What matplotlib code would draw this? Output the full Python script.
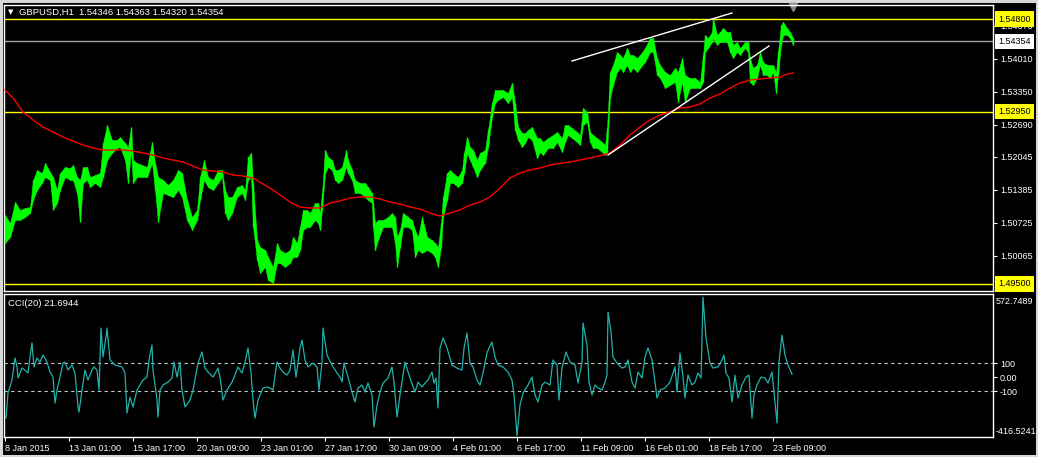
import matplotlib
matplotlib.use('Agg')
import matplotlib.pyplot as plt
import matplotlib.transforms as mtransforms
from matplotlib.patches import Rectangle

plt.rcParams['font.family'] = ['Liberation Sans', 'DejaVu Sans']

# ---- price samples (bar index, high, low) ----
bars = [0, 5, 10, 15, 20, 25, 28, 32, 37, 40,
        45, 48, 52, 55, 60, 65, 68, 72, 75, 78,
        82, 85, 90, 95, 98, 102, 107, 112, 115, 120,
        123, 126, 128, 132, 137, 142, 147, 150, 153, 158,
        163, 168, 173, 177, 182, 187, 192, 195, 199, 203,
        208, 213, 217, 220, 223, 227, 232, 237, 240, 243,
        246, 248, 252, 255, 260, 263, 268, 272, 275, 280,
        285, 288, 292, 295, 298, 302, 305, 310, 313, 315,
        317, 320, 323, 327, 330, 333, 337, 341, 343, 347,
        350, 355, 360, 363, 367, 368, 370, 373, 378, 383,
        387, 390, 392, 395, 398, 403, 407, 410, 413, 417,
        422, 427, 430, 433, 436, 438, 442, 445, 448, 453,
        457, 459, 462, 465, 468, 472, 475, 480, 483, 487,
        490, 493, 498, 503, 507, 510, 513, 517, 520, 523,
        527, 532, 535, 538, 543, 548, 552, 557, 560, 563,
        567, 572, 575, 578, 582, 585, 588, 592, 597, 600,
        602, 605, 608, 612, 615, 618, 622, 625, 628, 632,
        635, 640, 645, 648, 652, 655, 660, 665, 670, 673,
        677, 680, 685, 690, 695, 698, 700, 703, 707, 708,
        712, 715, 718, 722, 725, 728, 732, 735, 740, 743,
        745, 748, 752, 755, 758, 762, 765, 768, 771, 773,
        776, 778, 782, 785, 788]

high = [1.5088, 1.5072, 1.5114, 1.5098, 1.5102, 1.5104, 1.5158, 1.5178, 1.5172, 1.5192,
        1.5174, 1.5164, 1.5138, 1.5172, 1.5184, 1.5182, 1.5188, 1.5164, 1.5158, 1.5184,
        1.5184, 1.5164, 1.5168, 1.5172, 1.5232, 1.5268, 1.5238, 1.5238, 1.5244, 1.5232,
        1.5224, 1.5264, 1.5198, 1.5192, 1.5188, 1.5184, 1.5234, 1.5192, 1.5164, 1.5158,
        1.5148, 1.5158, 1.5178, 1.5172, 1.5118, 1.5084, 1.5098, 1.5164, 1.5198, 1.5164,
        1.5158, 1.5178, 1.5178, 1.5138, 1.5124, 1.5124, 1.5144, 1.5148, 1.5138, 1.5204,
        1.5212, 1.5152, 1.5038, 1.5024, 1.5018, 1.5004, 1.4984, 1.5032, 1.5018, 1.5012,
        1.5018, 1.5044, 1.5032, 1.5064, 1.5098, 1.5098, 1.5092, 1.5112, 1.5112, 1.5092,
        1.5132, 1.5218, 1.5204, 1.5198, 1.5178, 1.5178, 1.5184, 1.5218, 1.5198, 1.5178,
        1.5158, 1.5152, 1.5152, 1.5144, 1.5132, 1.5112, 1.5072, 1.5078, 1.5078, 1.5084,
        1.5092, 1.5084, 1.5044, 1.5058, 1.5092, 1.5084, 1.5078, 1.5058, 1.5044, 1.5084,
        1.5044, 1.5038, 1.5032, 1.5024, 1.5072, 1.5124, 1.5172, 1.5178, 1.5172, 1.5164,
        1.5178, 1.5212, 1.5244, 1.5224, 1.5218, 1.5198, 1.5212, 1.5218, 1.5258, 1.5312,
        1.5338, 1.5338, 1.5338, 1.5332, 1.5352, 1.5312, 1.5264, 1.5252, 1.5252, 1.5258,
        1.5264, 1.5242, 1.5242, 1.5234, 1.5242, 1.5248, 1.5254, 1.5242, 1.5268, 1.5268,
        1.5262, 1.5254, 1.5248, 1.5302, 1.5294, 1.5254, 1.5248, 1.5242, 1.5234, 1.5228,
        1.5262, 1.5374, 1.5388, 1.5414, 1.5408, 1.5402, 1.5422, 1.5408, 1.5408, 1.5402,
        1.5408, 1.5422, 1.5442, 1.5442, 1.5402, 1.5388, 1.5374, 1.5368, 1.5382, 1.5374,
        1.5402, 1.5368, 1.5362, 1.5362, 1.5354, 1.5408, 1.5448, 1.5442, 1.5454, 1.5482,
        1.5448, 1.5454, 1.5462, 1.5454, 1.5454, 1.5428, 1.5434, 1.5422, 1.5434, 1.5434,
        1.5402, 1.5382, 1.5388, 1.5414, 1.5394, 1.5388, 1.5388, 1.5388, 1.5374, 1.5414,
        1.5468, 1.5474, 1.5462, 1.5454, 1.5442]

low = [1.5032, 1.5044, 1.5078, 1.5078, 1.5084, 1.5092, 1.5118, 1.5138, 1.5152, 1.5164,
       1.5158, 1.5098, 1.5112, 1.5138, 1.5164, 1.5158, 1.5158, 1.5132, 1.5074, 1.5152,
       1.5158, 1.5144, 1.5152, 1.5144, 1.5164, 1.5198, 1.5212, 1.5222, 1.5224, 1.5198,
       1.5152, 1.5218, 1.5152, 1.5164, 1.5164, 1.5164, 1.5192, 1.5138, 1.5074, 1.5132,
       1.5128, 1.5124, 1.5138, 1.5124, 1.5078, 1.5058, 1.5078, 1.5118, 1.5158, 1.5144,
       1.5138, 1.5152, 1.5164, 1.5092, 1.5078, 1.5092, 1.5124, 1.5132, 1.5118, 1.5158,
       1.5164, 1.5064, 1.4998, 1.4972, 1.4984, 1.4958, 1.4952, 1.4992, 1.4992, 1.4984,
       1.4992, 1.5004, 1.5004, 1.5018, 1.5058, 1.5064, 1.5064, 1.5078, 1.5072, 1.5058,
       1.5098, 1.5172, 1.5184, 1.5178, 1.5158, 1.5152, 1.5158, 1.5184, 1.5172, 1.5158,
       1.5132, 1.5132, 1.5124, 1.5118, 1.5112, 1.5064, 1.5018, 1.5038, 1.5064, 1.5064,
       1.5064, 1.5032, 1.4984, 1.5024, 1.5064, 1.5064, 1.5058, 1.5004, 1.5018, 1.5012,
       1.5018, 1.5012, 1.5004, 1.4984, 1.5024, 1.5084, 1.5118, 1.5152, 1.5152, 1.5144,
       1.5152, 1.5172, 1.5212, 1.5198, 1.5184, 1.5164, 1.5178, 1.5192, 1.5224, 1.5284,
       1.5312, 1.5318, 1.5324, 1.5312, 1.5324, 1.5258, 1.5238, 1.5224, 1.5232, 1.5244,
       1.5238, 1.5202, 1.5214, 1.5208, 1.5222, 1.5222, 1.5234, 1.5214, 1.5234, 1.5248,
       1.5242, 1.5234, 1.5228, 1.5268, 1.5274, 1.5234, 1.5222, 1.5222, 1.5214, 1.5208,
       1.5214, 1.5322, 1.5348, 1.5374, 1.5382, 1.5374, 1.5388, 1.5374, 1.5382, 1.5374,
       1.5382, 1.5394, 1.5414, 1.5414, 1.5368, 1.5362, 1.5342, 1.5348, 1.5354, 1.5314,
       1.5354, 1.5314, 1.5342, 1.5342, 1.5342, 1.5354, 1.5414, 1.5422, 1.5434, 1.5442,
       1.5428, 1.5434, 1.5434, 1.5434, 1.5414, 1.5402, 1.5414, 1.5408, 1.5422, 1.5414,
       1.5354, 1.5348, 1.5362, 1.5388, 1.5368, 1.5368, 1.5362, 1.5374, 1.5332, 1.5368,
       1.5428, 1.5448, 1.5448, 1.5442, 1.5428]

# moving average (red)
ma_bars = [0, 8, 18, 28, 38, 48, 58, 68, 78, 88,
           98, 108, 118, 128, 138, 148, 158, 168, 178, 188,
           198, 208, 218, 228, 238, 248, 258, 265, 275, 285,
           295, 305, 315, 325, 335, 345, 355, 365, 375, 385,
           395, 405, 415, 425, 435, 445, 455, 465, 475, 485,
           495, 505, 515, 525, 535, 545, 565, 585, 598, 605,
           615, 625, 635, 645, 655, 665, 675, 685, 695, 705,
           715, 725, 735, 745, 755, 765, 775, 782, 788]
ma = [1.5338, 1.5322, 1.5294, 1.5278, 1.5264, 1.5254, 1.5244, 1.5236, 1.5228, 1.5222,
      1.5218, 1.5218, 1.5218, 1.5216, 1.5212, 1.5208, 1.5202, 1.5198, 1.5194, 1.5186,
      1.5178, 1.5176, 1.5174, 1.5168, 1.5166, 1.5162, 1.5150, 1.5142, 1.5128, 1.5114,
      1.5104, 1.5102, 1.5102, 1.5112, 1.5116, 1.5122, 1.5124, 1.5124, 1.5120, 1.5114,
      1.5110, 1.5104, 1.5100, 1.5092, 1.5086, 1.5092, 1.5098, 1.5108, 1.5114, 1.5124,
      1.5142, 1.5162, 1.5172, 1.5178, 1.5182, 1.5188, 1.5194, 1.5202, 1.5208, 1.5212,
      1.5228, 1.5248, 1.5264, 1.5278, 1.5288, 1.5294, 1.5302, 1.5304, 1.5310, 1.5322,
      1.5330, 1.5342, 1.5352, 1.5358, 1.5360, 1.5362, 1.5364, 1.5370, 1.5372]

# CCI(20)
cci_bars = [1, 3, 7, 10, 12, 13, 17, 20, 23, 25,
            27, 29, 32, 35, 38, 42, 45, 48, 50, 52,
            55, 58, 60, 63, 67, 70, 73, 74, 77, 80,
            83, 87, 89, 92, 94, 96, 98, 101, 102, 105,
            110, 117, 120, 122, 125, 128, 132, 135, 138, 142,
            144, 147, 148, 152, 153, 155, 158, 163, 167, 169,
            172, 175, 177, 180, 185, 188, 193, 197, 200, 203,
            208, 213, 215, 218, 222, 227, 230, 233, 237, 240,
            243, 246, 248, 250, 253, 258, 263, 268, 272, 275,
            278, 282, 285, 288, 291, 295, 297, 300, 303, 308,
            312, 314, 317, 318, 322, 327, 332, 335, 337, 339,
            343, 347, 350, 353, 357, 360, 363, 367, 369, 372,
            375, 378, 383, 387, 389, 392, 395, 400, 405, 410,
            413, 417, 420, 423, 427, 429, 431, 433, 435, 438,
            442, 447, 452, 457, 459, 462, 465, 468, 472, 475,
            478, 482, 484, 487, 490, 493, 498, 503, 507, 509,
            512, 515, 518, 523, 527, 530, 533, 537, 540, 545,
            548, 552, 554, 557, 561, 565, 570, 573, 577, 578,
            582, 584, 587, 590, 593, 597, 600, 602, 603, 606,
            608, 612, 617, 620, 623, 627, 630, 633, 637, 640,
            643, 647, 650, 652, 655, 660, 665, 670, 672, 675,
            678, 680, 683, 687, 690, 693, 696, 698, 701, 705,
            708, 713, 717, 719, 721, 724, 727, 730, 733, 737,
            741, 744, 747, 749, 752, 756, 760, 763, 767, 769,
            772, 774, 777, 780, 783, 787]
cci = [-291, -112, -19, 138, 74, -5, 66, 52, 31, 145,
       245, 74, 138, 109, 159, 109, 38, 2, -184, -91,
       2, 102, 109, 52, 88, 31, -212, -248, -91, 52,
       -19, 52, 74, 52, -91, 352, 145, 288, 352, 124,
       88, 74, 31, -255, -141, -212, -91, -55, -19, 2,
       124, 231, 52, -162, -284, -91, -55, -34, -5, 109,
       2, 109, -91, -212, -162, -91, 102, 181, 66, 38,
       2, 66, 2, -162, -91, -34, 16, 74, 31, 109,
       209, 31, -162, -291, -162, -76, -69, -91, 109, 66,
       38, 16, 52, 195, 2, 209, 266, 124, 74, 102,
       74, -91, 109, 352, 159, 88, 31, 2, -34, 102,
       2, -105, -176, -76, -55, -105, -41, -126, -355, -198,
       -105, -41, -5, 74, -34, -284, -126, 109, -5, -105,
       -34, -69, -41, -19, 38, -41, -5, -219, 209, 281,
       209, 88, 66, 52, 209, 316, 102, 74, -19, -55,
       31, 174, 209, 252, 145, 88, 74, 38, -19, -126,
       -416, -198, -112, -55, 2, -126, -176, -55, -34, -55,
       124, 88, -162, 66, 181, 109, 88, -41, 109, 388,
       231, -34, -126, -55, -76, -91, -34, 16, 466, 324,
       145, 102, 66, 74, 124, -34, -76, 38, -5, 145,
       209, 124, -34, -148, -91, -76, -34, 74, -105, 174,
       2, -148, 16, -55, -34, 31, -5, 572, 281, 102,
       66, 74, 124, 159, 31, -5, -176, 16, -148, -55,
       2, 16, -291, -126, -55, 2, -5, -41, 38, -105,
       -326, 109, 302, 159, 88, 22]

# horizontal levels and trend lines
levels = [1.5480, 1.5295, 1.4950]
bid = 1.54354
upper_trend = ([567, 727], [1.5396, 1.5492])
lower_trend = ([603, 764], [1.5208, 1.5426])

price_ticks = [1.54670, 1.54010, 1.53350, 1.52690, 1.52045, 1.51385, 1.50725, 1.50065]
date_ticks = [0, 64, 128, 192, 256, 320, 384, 448, 512, 576, 640, 704, 768]
date_labels = ['8 Jan 2015', '13 Jan 01:00', '15 Jan 17:00', '20 Jan 09:00', '23 Jan 01:00',
               '27 Jan 17:00', '30 Jan 09:00', '4 Feb 01:00', '6 Feb 17:00', '11 Feb 09:00',
               '16 Feb 01:00', '18 Feb 17:00', '23 Feb 09:00']

W, H = 1038, 457
fig = plt.figure(figsize=(W / 100, H / 100), dpi=100, facecolor='black')
# thin light window frame
fig.patches.append(Rectangle((1 / W, 1 / H), (W - 2) / W, (H - 2) / H,
                             transform=fig.transFigure, fill=False,
                             ec='#d8d8d8', lw=2.2, zorder=-10))

ax = fig.add_axes([4 / W, 1 - 291 / H, 989 / W, 286 / H])
ax2 = fig.add_axes([4 / W, 1 - 437 / H, 989 / W, 143 / H])
FS = 6.5

for a in (ax, ax2):
    a.set_facecolor('black')
    for s in a.spines.values():
        s.set_color('white')
        s.set_linewidth(1)
    a.set_xlim(-1, 988)
    a.yaxis.tick_right()
    a.tick_params(axis='y', colors='white', length=3, width=0.8, labelsize=FS, pad=2)

# ---- main price panel ----
ax.set_ylim(1.4936, 1.5508)
ax.set_xticks([])
for lv in levels:
    ax.axhline(lv, color='#ffff00', lw=1)
ax.axhline(bid, color='#a0a4ac', lw=1)
ax.fill_between(bars, low, high, color='#00ff00', lw=0.3, zorder=3)
ax.vlines(bars, low, high, color='#00ff00', lw=1.0, zorder=3)
ax.plot(ma_bars, ma, color='#ff0000', lw=1, zorder=4)
ax.plot(*upper_trend, color='white', lw=1, zorder=5)
ax.plot(*lower_trend, color='white', lw=1, zorder=5)
ax.set_yticks(price_ticks)
ax.set_yticklabels(['%.5f' % p for p in price_ticks])

tr = mtransforms.blended_transform_factory(ax.transAxes, ax.transData)
ax.plot([bars[-1]], [0.993], marker='v', ms=6, color='#8a8a8a',
        transform=mtransforms.blended_transform_factory(ax.transData, ax.transAxes),
        clip_on=False)
for val, bg in [(levels[0], '#ffff00'), (bid, 'white'), (levels[1], '#ffff00'), (levels[2], '#ffff00')]:
    ax.annotate('%.5f' % val, xy=(1.0, val), xycoords=tr, xytext=(5, 0),
                textcoords='offset pixels', ha='left', va='center', fontsize=FS,
                color='black', annotation_clip=False, zorder=10,
                bbox=dict(boxstyle='square,pad=0.35', fc=bg, ec='none'))

fig.text(8 / W, 1 - 12 / H, '\u25bc', fontsize=5, color='white', va='center',
         family='DejaVu Sans')
fig.text(19 / W, 1 - 12 / H, 'GBPUSD,H1  1.54346 1.54363 1.54320 1.54354',
         fontsize=6.8, color='white', va='center')

# ---- CCI panel ----
ax2.set_ylim(-426, 595)
ax2.axhline(100, color='#c8c8c8', lw=0.8, ls=(0, (3, 3)))
ax2.axhline(-100, color='#c8c8c8', lw=0.8, ls=(0, (3, 3)))
ax2.plot(cci_bars, cci, color='#20b2aa', lw=0.9)
ax2.set_yticks([100, 0, -100])
ax2.set_yticklabels(['100', '0.00', '-100'])
tr2 = mtransforms.blended_transform_factory(ax2.transAxes, ax2.transData)
ax2.text(1.003, 572.7489, '572.7489', transform=tr2, fontsize=FS, color='white',
         va='top', ha='left')
ax2.text(1.003, -416.5241, '-416.5241', transform=tr2, fontsize=FS, color='white',
         va='bottom', ha='left')
fig.text(8 / W, 1 - 303 / H, 'CCI(20) 21.6944', fontsize=6.8, color='white', va='center')

ax2.set_xticks(date_ticks)
ax2.set_xticklabels(date_labels, ha='left')
ax2.tick_params(axis='x', colors='white', length=3, width=0.8, labelsize=FS, pad=2)

fig.savefig('out.png', dpi=100, facecolor=fig.get_facecolor())
